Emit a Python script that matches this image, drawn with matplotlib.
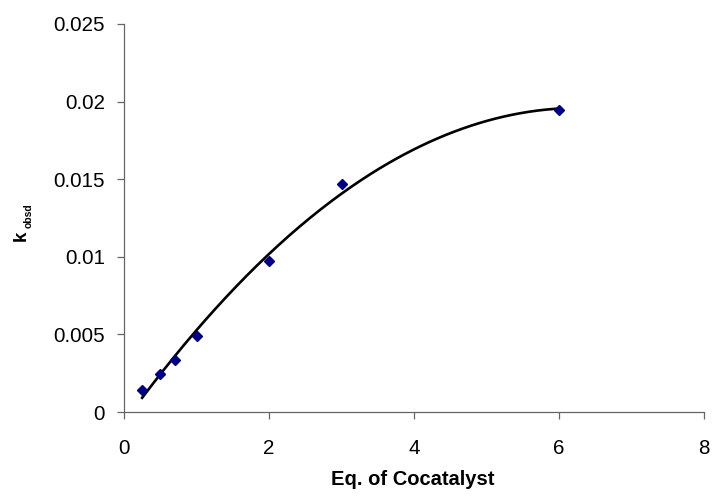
import numpy as np
import matplotlib
matplotlib.use("Agg")
import matplotlib.pyplot as plt

plt.rcParams['font.family'] = ['Liberation Sans', 'DejaVu Sans']

eq = [0.25, 0.5, 0.7, 1.0, 2.0, 3.0, 6.0]
kobsd = [0.0014, 0.00248, 0.00338, 0.00488, 0.00972, 0.01469, 0.01946]
x_ticks = [0, 2, 4, 6, 8]
y_ticks = [0, 0.005, 0.01, 0.015, 0.02, 0.025]
y_tick_labels = ['0', '0.005', '0.01', '0.015', '0.02', '0.025']

W, H = 712, 498
fig = plt.figure(figsize=(W / 100, H / 100), dpi=100)
ax = fig.add_axes([124 / W, 1 - 412 / H, 580 / W, 388 / H])

# 2nd-order polynomial trendline fitted to the data
coef = np.polyfit(eq, kobsd, 2)
xs = np.linspace(min(eq), max(eq), 200)
ax.plot(xs, np.polyval(coef, xs), color='black', lw=1.9, zorder=2)
ax.plot(eq, kobsd, linestyle='none', marker='D', ms=5.2, color='#000080',
        markeredgecolor='#000080', zorder=3)

ax.set_xlim(0, 8)
ax.set_ylim(0, 0.025)
ax.set_xticks(x_ticks)
ax.set_xticklabels([str(t) for t in x_ticks])
ax.set_yticks(y_ticks)
ax.set_yticklabels(y_tick_labels)

for s in ['top', 'right']:
    ax.spines[s].set_visible(False)
for s in ['left', 'bottom']:
    ax.spines[s].set_color('#666666')
    ax.spines[s].set_linewidth(0.9)
ax.tick_params(axis='both', direction='out', length=5, width=0.9, color='#666666',
               labelsize=14.8)
ax.tick_params(axis='y', pad=8.5)
ax.tick_params(axis='x', pad=14.5)

ax.set_xlabel('Eq. of Cocatalyst', fontsize=14.5, fontweight='bold', va='center')
ax.xaxis.set_label_coords(0.497, -0.175)

# y label: k with subscript "obsd"
fig.text(21.5 / W, 1 - 241 / H, 'k', rotation=90, fontsize=13.5, fontweight='bold',
         ha='center', va='bottom')
fig.text(28.5 / W, 1 - 228 / H, 'obsd', rotation=90, fontsize=7.5, fontweight='bold',
         ha='center', va='bottom')

fig.savefig('out.png', dpi=100)
